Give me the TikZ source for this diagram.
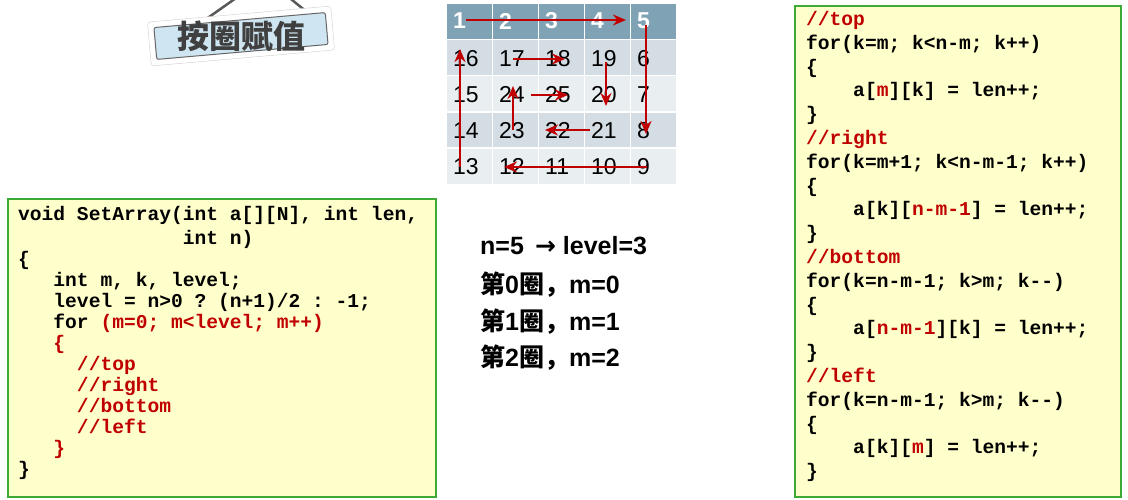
\documentclass[tikz,border=0pt]{standalone}
\usepackage{fontspec}
\setmainfont{Liberation Sans}
\setmonofont{Liberation Mono}
\newfontfamily\cjk{Noto Sans CJK SC}
\usetikzlibrary{arrows.meta, positioning}
\definecolor{codered}{HTML}{C00000}
\definecolor{boxfill}{HTML}{FFFFCC}
\definecolor{boxline}{HTML}{3DAA35}
\definecolor{headcell}{HTML}{7FA3B5}
\definecolor{darkcell}{HTML}{D3DDE3}
\definecolor{lightcell}{HTML}{E9EEF1}
\definecolor{tagfill}{HTML}{CFE6F2}
\newcommand\rd[1]{\textcolor{codered}{#1}}
\newcommand\ind[1]{\hspace*{#1}}
\begin{document}
\begin{tikzpicture}[x=1pt, y=-1pt, > = {Stealth[length=13pt, width=11pt]}, % arrow head style
        codebox/.style = {draw = boxline, line width = 1.5pt, fill = boxfill},
        code/.style = {anchor = north west, align = left, inner sep = 0pt,
            font = \ttfamily\bfseries\fontsize{19.6}{21}\selectfont},
        cell/.style = {anchor = west, inner sep = 0pt, font = \fontsize{23}{23}\selectfont},
        path/.style = {->, draw = codered, line width = 2.2pt},
        note/.style = {anchor = west, inner sep = 0pt, font = \bfseries\fontsize{25}{25}\selectfont}
    ]
    \useasboundingbox (0,0) rectangle (1128,500);

    % tag
    \begin{scope}[shift = {(241,36)}, rotate = 5]
        \draw[gray!70!black, line width = 2.5pt] (-40,-16) -- (10,-45) (40,-45) -- (70,-16);
        \draw[gray!40, fill = white, rounded corners = 3pt] (-92,-22) rectangle (92,22);
        \draw[gray!80!black, fill = tagfill, line width = 1pt, rounded corners = 2pt]
            (-86,-16) rectangle (86,16);
        \node[inner sep = 0pt, text = black!75, font = \cjk\bfseries\fontsize{32}{32}\selectfont]
            (tag) at (0,0) {按圈赋值};
    \end{scope}

    % grid
    \foreach \r/\fillc in {0/headcell, 1/darkcell, 2/lightcell, 3/darkcell, 4/lightcell}
        \foreach \c in {0,...,4}
            \fill[\fillc] ({447+46*\c}, {4+36.2*\r}) rectangle ++(44.5,34.8);
    \foreach \c/\v in {0/1, 1/2, 2/3, 3/4, 4/5}
        \node[cell, text = white, font = \bfseries\fontsize{23}{23}\selectfont] (n\v) at ({453+46*\c}, 21) {\v};
    \foreach \r/\a/\b/\cc/\d/\e in {1/16/17/18/19/6, 2/15/24/25/20/7, 3/14/23/22/21/8, 4/13/12/11/10/9} {
        \node[cell] (n\a) at (453, {22+36.2*\r}) {\a};
        \node[cell] (n\b) at (499, {22+36.2*\r}) {\b};
        \node[cell] (n\cc) at (545, {22+36.2*\r}) {\cc};
        \node[cell] (n\d) at (591, {22+36.2*\r}) {\d};
        \node[cell] (n\e) at (637, {22+36.2*\r}) {\e};
    }

    % walk
    \coordinate (p1) at (466,20);   \coordinate (p2) at (626,20);
    \coordinate (p3) at (646,25);   \coordinate (p4) at (646,134);
    \coordinate (p5) at (647,167);  \coordinate (p6) at (504,167);
    \coordinate (p7) at (460,167);  \coordinate (p8) at (460,49);
    \coordinate (p9) at (513,59);   \coordinate (p10) at (565,59);
    \coordinate (p11) at (606,62);  \coordinate (p12) at (606,106);
    \coordinate (p13) at (590,130); \coordinate (p14) at (545,130);
    \coordinate (p15) at (513,130); \coordinate (p16) at (513,86);
    \coordinate (p17) at (531,95);  \coordinate (p18) at (568,95);
    \foreach \s/\t in {p1/p2, p3/p4, p5/p6, p7/p8, p9/p10, p11/p12, p13/p14, p15/p16, p17/p18}
        \path[path] (\s) -- (\t);

    % left code
    \draw[codebox] (8,199) rectangle (436,497);
    \node[code] (setarray) at (18,206) {%
        void SetArray(int a[][N], int len,\\[3pt]
        \ind{8.4em}int n)\\
        \{\\
        \ind{1.8em}int m, k, level;\\
        \ind{1.8em}level = n>0 ? (n+1)/2 : -1;\\
        \ind{1.8em}for \rd{(m=0; m<level; m++)}\\
        \ind{1.8em}\rd{\{}\\
        \ind{3em}\rd{//top}\\
        \ind{3em}\rd{//right}\\
        \ind{3em}\rd{//bottom}\\
        \ind{3em}\rd{//left}\\
        \ind{1.8em}\rd{\}}\\
        \}};

    % notes
    \node[note] (level) at (480,246) {n=5 \,{\fontspec{DejaVu Sans}\bfseries →} level=3};
    \node[note] (ring0) at (480,285) {{\cjk\bfseries 第}0{\cjk\bfseries 圈，}m=0};
    \node[note] (ring1) at (480,322) {{\cjk\bfseries 第}1{\cjk\bfseries 圈，}m=1};
    \node[note] (ring2) at (480,358) {{\cjk\bfseries 第}2{\cjk\bfseries 圈，}m=2};

    % right code
    \draw[codebox] (795,6) rectangle (1121,497);
    \node[code, font = \ttfamily\bfseries\fontsize{19.6}{23.8}\selectfont] (loops) at (806,11) {%
        \rd{//top}\\
        for(k=m; k<n-m; k++)\\
        \{\\
        \ind{2.4em}a[\rd{m}][k] = len++;\\
        \}\\
        \rd{//right}\\
        for(k=m+1; k<n-m-1; k++)\\
        \{\\
        \ind{2.4em}a[k][\rd{n-m-1}] = len++;\\
        \}\\
        \rd{//bottom}\\
        for(k=n-m-1; k>m; k-{}-)\\
        \{\\
        \ind{2.4em}a[\rd{n-m-1}][k] = len++;\\
        \}\\
        \rd{//left}\\
        for(k=n-m-1; k>m; k-{}-)\\
        \{\\
        \ind{2.4em}a[k][\rd{m}] = len++;\\
        \}};
\end{tikzpicture}
\end{document}
